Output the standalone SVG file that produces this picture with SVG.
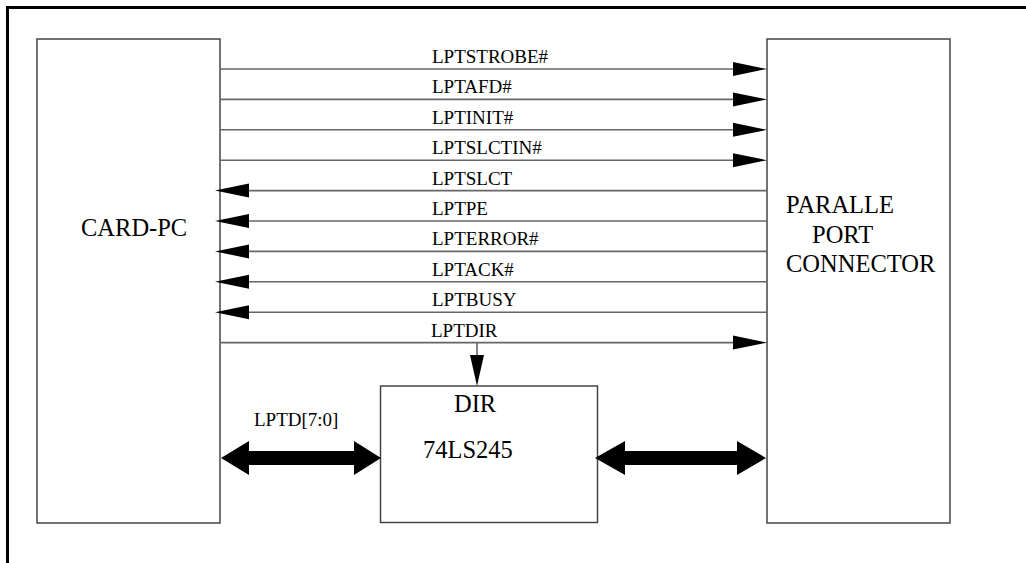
<svg xmlns="http://www.w3.org/2000/svg" width="1026" height="563" viewBox="0 0 1026 563">
<style>
.box{fill:#fff;stroke:#444;stroke-width:1.5}
.sig{stroke:#666;stroke-width:1.6;fill:none}
.lbl{font-family:"Liberation Serif","Times New Roman",serif;font-size:19px;fill:#000}
.big{font-family:"Liberation Serif","Times New Roman",serif;font-size:24.5px;fill:#000}
.hd{fill:#000}
</style>
<rect width="1026" height="563" fill="#fff"/>
<path d="M7.5,563 V7.5 H1026" fill="none" stroke="#000" stroke-width="3"/>
<g id="card-pc">
<rect class="box" x="37" y="39" width="183" height="484"/>
<text class="big" x="81" y="236">CARD-PC</text>
</g>
<g id="connector">
<rect class="box" x="767" y="39" width="183" height="484"/>
<text class="big" x="786" y="213">PARALLE</text>
<text class="big" x="812" y="243">PORT</text>
<text class="big" x="786" y="272">CONNECTOR</text>
</g>
<g id="ls245">
<rect class="box" x="380.5" y="386" width="217" height="136.5"/>
<text class="big" x="454" y="412">DIR</text>
<text class="big" x="423" y="458">74LS245</text>
</g>
<g id="connectors">
<line class="sig" x1="220" y1="69" x2="740" y2="69"/>
<polygon class="hd" points="733,62 767,69 733,76"/>
<text class="lbl" x="432" y="63">LPTSTROBE#</text>
<line class="sig" x1="220" y1="99.4" x2="740" y2="99.4"/>
<polygon class="hd" points="733,92.4 767,99.4 733,106.4"/>
<text class="lbl" x="432" y="93.4">LPTAFD#</text>
<line class="sig" x1="220" y1="129.8" x2="740" y2="129.8"/>
<polygon class="hd" points="733,122.8 767,129.8 733,136.8"/>
<text class="lbl" x="432" y="123.8">LPTINIT#</text>
<line class="sig" x1="220" y1="160.2" x2="740" y2="160.2"/>
<polygon class="hd" points="733,153.2 767,160.2 733,167.2"/>
<text class="lbl" x="432" y="154.2">LPTSLCTIN#</text>
<line class="sig" x1="245" y1="190.6" x2="767" y2="190.6"/>
<polygon class="hd" points="249,183.6 215,190.6 249,197.6"/>
<text class="lbl" x="432" y="184.6">LPTSLCT</text>
<line class="sig" x1="245" y1="221" x2="767" y2="221"/>
<polygon class="hd" points="249,214 215,221 249,228"/>
<text class="lbl" x="432" y="215">LPTPE</text>
<line class="sig" x1="245" y1="251.4" x2="767" y2="251.4"/>
<polygon class="hd" points="249,244.4 215,251.4 249,258.4"/>
<text class="lbl" x="432" y="245.4">LPTERROR#</text>
<line class="sig" x1="245" y1="281.8" x2="767" y2="281.8"/>
<polygon class="hd" points="249,274.8 215,281.8 249,288.8"/>
<text class="lbl" x="432" y="275.8">LPTACK#</text>
<line class="sig" x1="245" y1="312.2" x2="767" y2="312.2"/>
<polygon class="hd" points="249,305.2 215,312.2 249,319.2"/>
<text class="lbl" x="432" y="306.2">LPTBUSY</text>
<line class="sig" x1="220" y1="342.6" x2="740" y2="342.6"/>
<polygon class="hd" points="733,335.6 767,342.6 733,349.6"/>
<text class="lbl" x="431" y="336.6">LPTDIR</text>
<line class="sig" x1="477" y1="342.6" x2="477" y2="360"/>
<polygon class="hd" points="470,355 484,355 477,386"/>
<polygon class="hd" points="221,458 249,441 249,451 354,451 354,441 381,458 354,475 354,465 249,465 249,475"/>
<text class="lbl" x="254" y="426">LPTD[7:0]</text>
<polygon class="hd" points="595,458 625,441 625,451 737,451 737,441 766,458 737,475 737,465 625,465 625,475"/>
</g>
</svg>
